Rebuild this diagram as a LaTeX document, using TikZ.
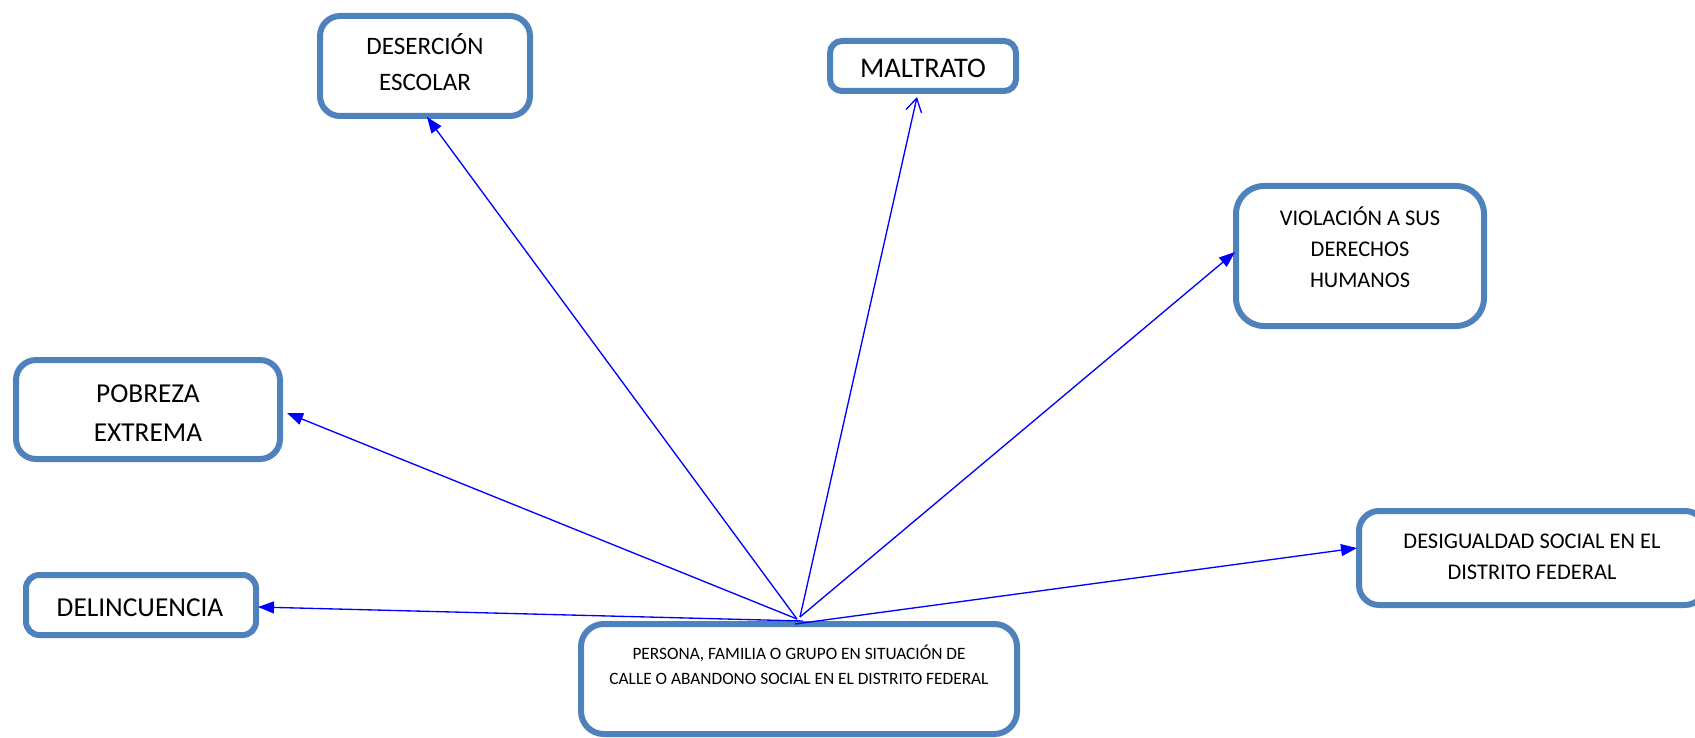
\documentclass[tikz,border=0pt]{standalone}
\usepackage{fontspec}
\setmainfont{Carlito}
\usetikzlibrary{arrows.meta,calc}
\definecolor{boxblue}{HTML}{4F81BD}
\definecolor{linkblue}{HTML}{0000FF}
\tikzset{
  causebox/.style={draw=boxblue, line width=4.5pt, fill=white, inner sep=0pt},
  lbl/.style={anchor=base, inner sep=0pt, text=black},
  link/.style={draw=linkblue, line width=1pt, -{Triangle[length=12pt,width=9pt]}},
  openlink/.style={draw=linkblue, line width=1pt, -{Straight Barb[length=10pt,width=12pt,line width=1pt]}}
}
\newcommand{\txt}[3]{{\fontsize{#1}{#2}\selectfont\begin{tabular}[t]{@{}c@{}}#3\end{tabular}}}
\begin{document}
\begin{tikzpicture}[x=0.75pt,y=-0.75pt]
\useasboundingbox (0,0) rectangle (1695,738);
% boxes
\node[causebox, minimum width=157.5pt, minimum height=75pt, rounded corners=15pt] (desercion) at (425,66) {};
\node[causebox, minimum width=139.5pt, minimum height=37.5pt, rounded corners=9pt] (maltrato) at (923,66) {};
\node[causebox, minimum width=186pt, minimum height=105pt, rounded corners=21pt] (violacion) at (1360,256) {};
\node[causebox, minimum width=198pt, minimum height=74.25pt, rounded corners=15pt] (pobreza) at (148,409.5) {};
\node[causebox, minimum width=172.5pt, minimum height=45pt, rounded corners=10pt] (delincuencia) at (141,605) {};
\node[causebox, minimum width=259.5pt, minimum height=70.5pt, rounded corners=15pt] (desigualdad) at (1532,558) {};
\node[causebox, minimum width=327pt, minimum height=82.5pt, rounded corners=17pt] (persona) at (799,679) {};
% texts
\node[lbl] (tdesercion) at (425,55) {\txt{18.8pt}{27pt}{DESERCIÓN\\ESCOLAR}};
\node[lbl] (tmaltrato) at (923,78) {\txt{21.3pt}{24pt}{MALTRATO}};
\node[lbl] (tviolacion) at (1360,225) {\txt{16.8pt}{23.6pt}{VIOLACIÓN A SUS\\DERECHOS\\HUMANOS}};
\node[lbl] (tpobreza) at (148,402) {\txt{20.5pt}{29.25pt}{POBREZA\\EXTREMA}};
\node[lbl] (tdelincuencia) at (140,616) {\txt{20.5pt}{24pt}{DELINCUENCIA}};
\node[lbl] (tdesigualdad) at (1532,548) {\txt{16.8pt}{23.25pt}{DESIGUALDAD SOCIAL EN EL\\DISTRITO FEDERAL}};
\node[lbl] (tpersona) at (799,659) {\txt{13pt}{18.75pt}{PERSONA, FAMILIA O GRUPO EN SITUACIÓN DE\\CALLE O ABANDONO SOCIAL EN EL DISTRITO FEDERAL}};
% hub coordinates on top of the central box
\coordinate (hubL) at ($(persona.north)+(-2,-2)$);
\coordinate (hubR) at ($(persona.north)+(1,-4)$);
\coordinate (hubD) at ($(persona.north)+(4,0)$);
\coordinate (hubE) at ($(persona.north)+(-4,3)$);
% connectors
\draw[link] (hubD) -- ($(delincuencia.east)+(-1,2)$);
\draw[link] (hubL) -- ($(pobreza.east)+(4,3.5)$);
\draw[link] (hubL) -- ($(desercion.south)+(2,-2)$);
\draw[openlink] (hubR) -- ($(maltrato.south)+(-6,3)$);
\draw[link] (hubR) -- ($(violacion.west)+(2,-4)$);
\draw[link] (hubE) -- ($(desigualdad.west)+(1,-10)$);
\end{tikzpicture}
\end{document}
